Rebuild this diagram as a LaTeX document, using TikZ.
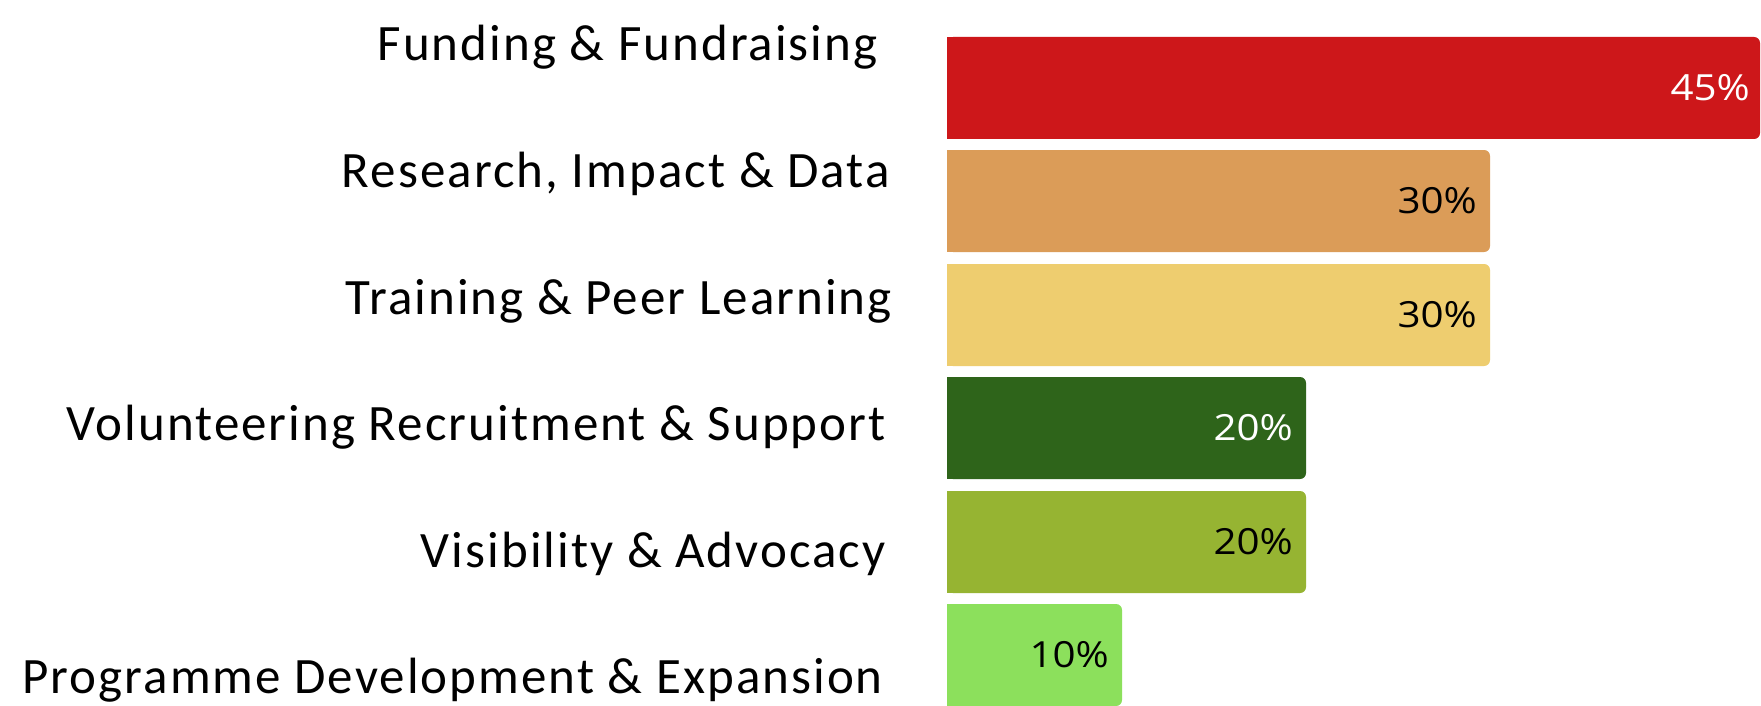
\documentclass[tikz,border=0pt]{standalone}
\usepackage{fontspec}
\setmainfont[LetterSpace=4]{Carlito}
\newfontfamily\pctfont[FakeStretch=1.12]{Open Sans}
\definecolor{cRed}{RGB}{205,23,26}
\definecolor{cOrange}{RGB}{219,156,88}
\definecolor{cYellow}{RGB}{238,205,111}
\definecolor{cDark}{RGB}{46,100,26}
\definecolor{cOlive}{RGB}{150,180,50}
\definecolor{cLight}{RGB}{140,224,92}
\tikzset{
  catlabel/.style={anchor=base east,inner sep=0pt,font=\fontsize{51}{51}\selectfont,text=black},
  pctlabel/.style={anchor=east,inner sep=0pt,font=\pctfont\fontsize{36}{36}\selectfont},
}
\newcommand{\mybar}[4]{% top, right, colour, name
  \fill[#3,rounded corners=6pt] (947,#1) rectangle (#2,#1+102);
  \fill[#3] (947,#1) rectangle (#2-12,#1+102);
  \coordinate (#4) at (#2,#1+51);
}
\begin{document}
\begin{tikzpicture}[x=1pt,y=-1pt]
\useasboundingbox (0,0) rectangle (1761,706);
\fill[white] (0,0) rectangle (1761,706);
\mybar{37}{1760}{cRed}{b1}
\mybar{150}{1490}{cOrange}{b2}
\mybar{264}{1490}{cYellow}{b3}
\mybar{377}{1306}{cDark}{b4}
\mybar{491}{1306}{cOlive}{b5}
\mybar{604}{1122}{cLight}{b6}
\node[pctlabel,text=white] (p1) at ([xshift=-10pt]b1) {45\%};
\node[pctlabel,text=black] (p2) at ([xshift=-13pt]b2) {30\%};
\node[pctlabel,text=black] (p3) at ([xshift=-13pt]b3) {30\%};
\node[pctlabel,text=white] (p4) at ([xshift=-13pt]b4) {20\%};
\node[pctlabel,text=black] (p5) at ([xshift=-13pt]b5) {20\%};
\node[pctlabel,text=black] (p6) at ([xshift=-13pt]b6) {10\%};
\node[catlabel] (l1) at (878,61) {Funding \& Fundraising};
\node[catlabel] (l2) at (890,187) {Research, Impact \& Data};
\node[catlabel] (l3) at (892,314) {Training \& Peer Learning};
\node[catlabel] (l4) at (886,440) {Volunteering Recruitment \& Support};
\node[catlabel] (l5) at (886,567) {Visibility \& Advocacy};
\node[catlabel] (l6) at (883,693) {Programme Development \& Expansion};
\end{tikzpicture}
\end{document}
